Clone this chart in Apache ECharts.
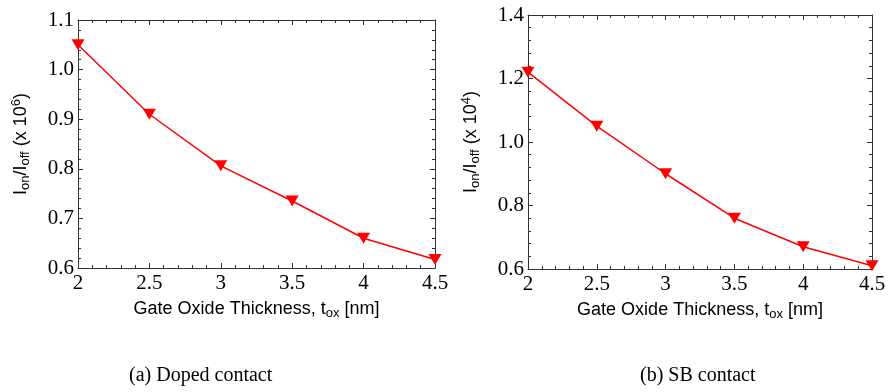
<!DOCTYPE html>
<html><head><meta charset="utf-8">
<script src="https://cdn.jsdelivr.net/npm/echarts@6/dist/echarts.min.js"></script>
<style>html,body{margin:0;padding:0;background:#fff}#c{width:890px;height:392px}</style>
</head><body><div id="c"></div>
<script>
const thickness = [2, 2.5, 3, 3.5, 4, 4.5];
const dopedRatio = [1.05, 0.91, 0.806, 0.735, 0.66, 0.617];
const sbRatio = [1.22, 1.05, 0.90, 0.76, 0.67, 0.61];
const captions = ['(a) Doped contact', '(b) SB contact'];
const xTitle = 'Gate Oxide Thickness, t';

const chart = echarts.init(document.getElementById('c'));
const axisColor = '#333';
const serif = 'Liberation Serif';
const sans = 'Liberation Sans';

const richStyles = {
  n: {fontFamily: sans, fontSize: 18, color: '#000', lineHeight: 22, verticalAlign: 'middle'},
  sub: {fontFamily: sans, fontSize: 13, color: '#000', lineHeight: 22, verticalAlign: 'bottom'},
  sup: {fontFamily: sans, fontSize: 13, color: '#000', lineHeight: 22, verticalAlign: 'top'}
};
const tickRich = {t: {fontFamily: serif, fontSize: 21, color: '#000'}};

function xAxisDef(gi, show) {
  return {
    type: 'value', gridIndex: gi, min: 2, max: 4.5, interval: 0.5,
    position: show ? 'bottom' : 'top',
    axisLine: {show: true, onZero: false, lineStyle: {color: axisColor, width: 1}},
    axisTick: {show: true, inside: true, length: 5, lineStyle: {color: axisColor}},
    minorTick: {show: true, splitNumber: 5, length: 3, lineStyle: {color: axisColor}},
    splitLine: {show: false},
    axisLabel: {show: show, margin: 5, formatter: v => '{t|' + v + '}', rich: tickRich},
    name: show ? '{n|' + xTitle + '}{sub|ox}{n| [nm]}' : '',
    nameLocation: 'middle', nameGap: 30,
    nameTextStyle: {rich: richStyles}
  };
}
function yAxisDef(gi, show, min, max, interval, exp) {
  return {
    type: 'value', gridIndex: gi, min: min, max: max, interval: interval,
    position: show ? 'left' : 'right',
    axisLine: {show: true, onZero: false, lineStyle: {color: axisColor, width: 1}},
    axisTick: {show: true, inside: true, length: 5, lineStyle: {color: axisColor}},
    minorTick: {show: true, splitNumber: 5, length: 3, lineStyle: {color: axisColor}},
    splitLine: {show: false},
    axisLabel: {show: show, margin: 4, formatter: v => '{t|' + v.toFixed(1) + '}', rich: tickRich},
    name: show ? '{n|I}{sub|on}{n|/I}{sub|off}{n| (x 10}{sup|' + exp + '}{n|)}' : '',
    nameLocation: 'middle', nameGap: 46, nameRotate: 90,
    nameTextStyle: {rich: richStyles}
  };
}
function seriesDef(gi, vals) {
  return {
    type: 'line', xAxisIndex: gi * 2, yAxisIndex: gi * 2,
    data: thickness.map((t, i) => [t, vals[i]]),
    lineStyle: {color: '#ff0000', width: 1.5},
    itemStyle: {color: '#ff0000'},
    symbol: 'triangle', symbolRotate: 180, symbolSize: [13, 11],
    animation: false, clip: false
  };
}

chart.setOption({
  animation: false,
  grid: [
    {left: 78, width: 357, top: 20, height: 248},
    {left: 528, width: 344, top: 15, height: 254}
  ],
  xAxis: [xAxisDef(0, true), xAxisDef(0, false), xAxisDef(1, true), xAxisDef(1, false)],
  yAxis: [
    yAxisDef(0, true, 0.6, 1.1, 0.1, 6), yAxisDef(0, false, 0.6, 1.1, 0.1, 6),
    yAxisDef(1, true, 0.6, 1.4, 0.2, 4), yAxisDef(1, false, 0.6, 1.4, 0.2, 4)
  ],
  series: [seriesDef(0, dopedRatio), seriesDef(1, sbRatio)],
  title: [
    {text: captions[0], left: 129, top: 366, textStyle: {fontFamily: serif, fontSize: 20, fontWeight: 'normal', color: '#000'}, padding: 0},
    {text: captions[1], left: 640, top: 366, textStyle: {fontFamily: serif, fontSize: 20, fontWeight: 'normal', color: '#000'}, padding: 0}
  ]
});
</script></body></html>
